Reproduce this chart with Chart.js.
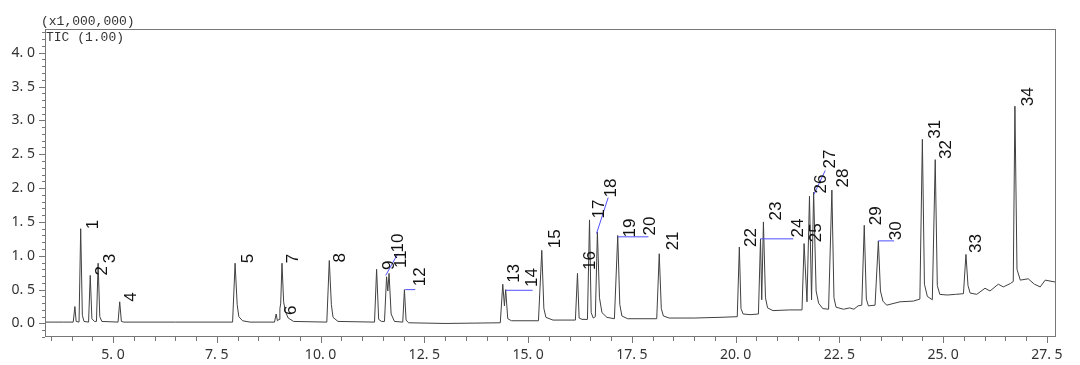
<!DOCTYPE html>
<html>
<head>
<meta charset="utf-8">
<script src="https://cdn.jsdelivr.net/npm/chart.js@4"></script>
<style>
  html, body { margin: 0; padding: 0; background: #fff; }
</style>
</head>
<body>
<canvas id="tic" width="1080" height="365"></canvas>
<script>
// TIC trace, retention time (min) and intensity (x1,000,000)
const traceTime = [
  3.36, 3.80, 4.04, 4.08, 4.11, 4.18, 4.22, 4.26, 4.30, 4.41, 4.45, 4.49, 4.55, 4.60, 4.64, 4.68, 4.73,
  5.12, 5.16, 5.20, 5.26, 6.50, 7.88, 7.94, 7.99, 8.03, 8.12, 8.30, 8.89, 8.93, 8.96, 9.00, 9.02, 9.04,
  9.07, 9.11, 9.15, 9.22, 9.35, 10.15, 10.21, 10.26, 10.30, 10.42, 11.30, 11.35, 11.40, 11.47, 11.54,
  11.59, 11.62, 11.65, 11.70, 11.78, 11.98, 12.02, 12.06, 12.12, 13.00, 14.33, 14.39, 14.43, 14.46,
  14.51, 14.60, 15.25, 15.33, 15.38, 15.43, 15.60, 16.14, 16.19, 16.23, 16.30, 16.43, 16.48, 16.52,
  16.57, 16.62, 16.67, 16.72, 16.78, 16.90, 17.08, 17.16, 17.21, 17.26, 17.40, 18.10, 18.16, 18.21,
  18.26, 18.40, 19.00, 19.60, 20.04, 20.09, 20.13, 20.18, 20.35, 20.55, 20.60, 20.63, 20.67, 20.72,
  20.77, 20.90, 21.30, 21.60, 21.65, 21.72, 21.78, 21.83, 21.88, 21.94, 22.00, 22.10, 22.24, 22.32,
  22.37, 22.42, 22.60, 22.75, 22.85, 22.95, 23.04, 23.10, 23.15, 23.20, 23.36, 23.44, 23.49, 23.55,
  23.64, 23.96, 24.28, 24.44, 24.50, 24.55, 24.62, 24.74, 24.81, 24.86, 24.92, 25.10, 25.30, 25.49,
  25.55, 25.60, 25.65, 25.81, 26.01, 26.13, 26.33, 26.45, 26.62, 26.69, 26.73, 26.78, 26.86, 27.05,
  27.20, 27.34, 27.46, 27.72
];
const traceSignal = [
  0.02, 0.02, 0.02, 0.25, 0.03, 0.02, 1.40, 0.12, 0.03, 0.02, 0.71, 0.07, 0.03, 0.03, 0.89, 0.10, 0.03,
  0.02, 0.32, 0.03, 0.02, 0.02, 0.02, 0.89, 0.28, 0.10, 0.04, 0.02, 0.02, 0.14, 0.04, 0.06, 0.22, 0.30,
  0.89, 0.32, 0.18, 0.08, 0.03, 0.02, 0.93, 0.28, 0.09, 0.03, 0.02, 0.80, 0.06, 0.03, 0.03,
  0.69, 0.48, 0.74, 0.14, 0.03, 0.02, 0.50, 0.05, 0.01, 0.00, 0.01, 0.58, 0.26, 0.50,
  0.07, 0.04, 0.04, 1.08, 0.22, 0.09, 0.05, 0.05, 0.74, 0.08, 0.06, 0.06, 1.53, 0.16,
  0.08, 0.10, 1.35, 0.38, 0.16, 0.09, 0.07, 1.30, 0.28, 0.11, 0.07, 0.07, 1.03, 0.22,
  0.11, 0.08, 0.08, 0.09, 0.10, 1.13, 0.22, 0.14, 0.13, 0.14, 1.25, 0.35, 1.50, 0.38,
  0.23, 0.19, 0.20, 0.20, 1.18, 0.32, 1.88, 0.35, 1.94, 0.48, 0.30, 0.22, 0.21, 1.97,
  0.38, 0.24, 0.21, 0.23, 0.21, 0.26, 0.27, 1.45, 0.36, 0.26, 0.27, 1.22, 0.48, 0.33,
  0.27, 0.32, 0.33, 0.36, 2.72, 0.58, 0.40, 0.35, 2.42, 0.56, 0.43, 0.42, 0.43, 0.44,
  1.02, 0.56, 0.45, 0.43, 0.52, 0.48, 0.58, 0.54, 0.59, 0.62, 3.21, 0.80, 0.64, 0.66,
  0.58, 0.54, 0.64, 0.61
];

// peak numbers and where their labels sit
const peakNumbers = [1, 2, 3, 4, 5, 6, 7, 8, 9, 10, 11, 12, 13, 14, 15, 16, 17, 18, 19, 20,
  21, 22, 23, 24, 25, 26, 27, 28, 29, 30, 31, 32, 33, 34];
const labelTime = [4.23, 4.45, 4.64, 5.14, 7.96, 9.00, 9.05, 10.18, 11.36, 11.58, 11.65, 12.11,
  14.37, 14.81, 15.36, 16.20, 16.42, 16.71, 17.17, 17.65, 18.20, 20.08, 20.69, 21.22, 21.65,
  21.77, 21.99, 22.30, 23.10, 23.58, 24.52, 24.78, 25.51, 26.74];
const labelHeight = [1.39, 0.71, 0.89, 0.32, 0.89, 0.125, 0.89, 0.90, 0.79, 1.05, 0.82, 0.55,
  0.60, 0.54, 1.11, 0.79, 1.55, 1.86, 1.27, 1.30, 1.08, 1.13, 1.52, 1.27, 1.20,
  1.92, 2.29, 2.01, 1.45, 1.23, 2.73, 2.43, 1.04, 3.21];

// blue leader lines from a peak apex to its moved label
const leaderFromTime = [11.57, 12.04, 14.46, 16.65, 17.16, 20.60, 21.89, 23.44];
const leaderFromHeight = [0.71, 0.50, 0.49, 1.33, 1.28, 1.25, 1.91, 1.22];
const leaderToTime = [11.86, 12.28, 15.11, 16.93, 17.90, 21.39, 22.16, 23.82];
const leaderToHeight = [1.03, 0.50, 0.49, 1.86, 1.28, 1.25, 2.26, 1.22];

// axis labels
const xLabelValues = [5.0, 7.5, 10.0, 12.5, 15.0, 17.5, 20.0, 22.5, 25.0, 27.5];
const yLabelValues = [0.0, 0.5, 1.0, 1.5, 2.0, 2.5, 3.0, 3.5, 4.0];

const fmt = v => v.toFixed(1).replace('.', '. ');
const isLabel = (list, v) => list.some(l => Math.abs(l - v) < 1e-6);

const datasets = [{
  data: traceTime.map((t, i) => ({ x: t, y: traceSignal[i] })),
  borderColor: '#404040',
  borderWidth: 1,
  pointRadius: 0,
  tension: 0,
  order: 2
}];
leaderFromTime.forEach((t, i) => {
  datasets.push({
    data: [{ x: t, y: leaderFromHeight[i] }, { x: leaderToTime[i], y: leaderToHeight[i] }],
    borderColor: '#4f4fff',
    borderWidth: 1,
    pointRadius: 0,
    order: 1
  });
});

// frame, tick marks, header text and peak numbers
const decor = {
  id: 'decor',
  afterDraw(chart) {
    const { ctx, chartArea: a, scales: { x, y } } = chart;
    ctx.save();
    ctx.strokeStyle = '#777';
    ctx.lineWidth = 1;
    ctx.strokeRect(Math.round(a.left) + 0.5, Math.round(a.top) + 0.5,
      Math.round(a.right - a.left) - 1, Math.round(a.bottom - a.top) - 1);

    ctx.beginPath();
    for (let k = 7; k <= 55; k++) {
      const v = k / 2;
      const px = Math.round(x.getPixelForValue(v)) + 0.5;
      const len = isLabel(xLabelValues, v) ? 6 : 4;
      ctx.moveTo(px, a.bottom);
      ctx.lineTo(px, a.bottom + len);
    }
    for (let k = -2; k <= 43; k++) {
      const v = k / 10;
      const py = Math.round(y.getPixelForValue(v)) + 0.5;
      const len = k % 5 === 0 ? 6 : 3;
      ctx.moveTo(a.left, py);
      ctx.lineTo(a.left - len, py);
    }
    ctx.stroke();

    ctx.fillStyle = '#333';
    ctx.font = '13px "Liberation Mono"';
    ctx.textBaseline = 'alphabetic';
    ctx.textAlign = 'left';
    ctx.fillText('(x1,000,000)', 41, 25);
    ctx.fillText('TIC (1.00)', 46, 41);

    ctx.fillStyle = '#111';
    ctx.font = '17px "Liberation Sans"';
    ctx.textBaseline = 'top';
    peakNumbers.forEach((n, i) => {
      const px = x.getPixelForValue(labelTime[i]) + 4;
      const py = y.getPixelForValue(labelHeight[i]);
      ctx.save();
      ctx.translate(px, py);
      ctx.rotate(-Math.PI / 2);
      ctx.fillText(String(n), 0, 0);
      ctx.restore();
    });
    ctx.restore();
  }
};

new Chart(document.getElementById('tic'), {
  type: 'line',
  data: { datasets },
  options: {
    responsive: false,
    animation: false,
    devicePixelRatio: 1,
    layout: { padding: { top: 29, right: 24, left: 0, bottom: 0 } },
    plugins: { legend: { display: false }, tooltip: { enabled: false } },
    scales: {
      x: {
        type: 'linear',
        min: 3.36,
        max: 27.72,
        afterFit: s => { s.height = 28; },
        border: { display: false },
        grid: { display: false, drawTicks: false },
        ticks: {
          stepSize: 2.5,
          includeBounds: false,
          autoSkip: false,
          maxRotation: 0,
          padding: 10,
          color: '#333',
          font: { family: 'Noto Sans', size: 14 },
          callback: v => isLabel(xLabelValues, v) ? fmt(v) : ''
        }
      },
      y: {
        min: -0.2,
        max: 4.35,
        afterFit: s => { s.width = 45; },
        border: { display: false },
        grid: { display: false, drawTicks: false },
        ticks: {
          stepSize: 0.5,
          includeBounds: false,
          autoSkip: false,
          padding: 10,
          color: '#333',
          font: { family: 'Noto Sans', size: 14 },
          callback: v => isLabel(yLabelValues, v) ? fmt(v) : ''
        }
      }
    }
  },
  plugins: [decor]
});
</script>
</body>
</html>
